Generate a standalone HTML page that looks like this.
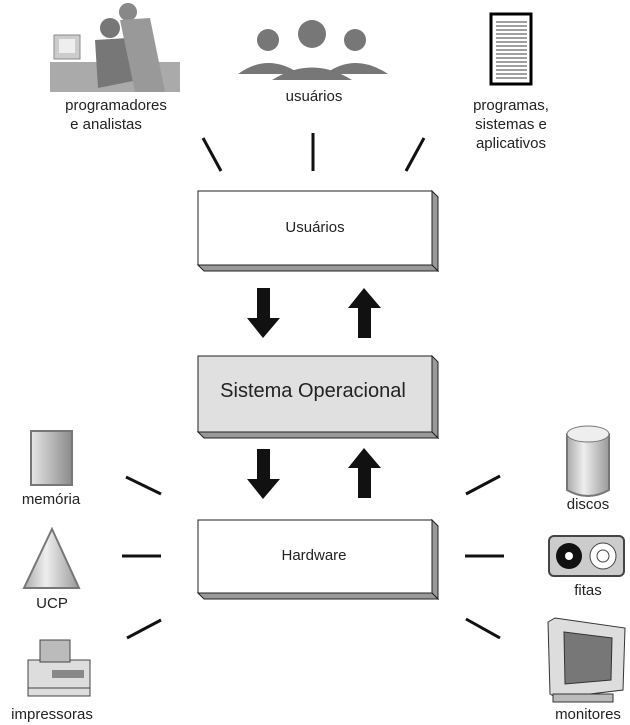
<!DOCTYPE html>
<html><head><meta charset="utf-8"><style>
html,body{margin:0;padding:0;background:#fff;}
svg{display:block;}
text{font-family:"Liberation Sans",sans-serif;fill:#222;}
</style></head><body>
<svg width="630" height="725" viewBox="0 0 630 725" xmlns="http://www.w3.org/2000/svg">
<defs>
<linearGradient id="gm" x1="0" x2="1"><stop offset="0" stop-color="#e6e6e6"/><stop offset="1" stop-color="#8a8a8a"/></linearGradient>
<linearGradient id="gc" x1="0" x2="1"><stop offset="0" stop-color="#aaa"/><stop offset="0.4" stop-color="#eee"/><stop offset="1" stop-color="#999"/></linearGradient>
</defs>
<!-- top icons -->
<g>
<rect x="50" y="62" width="130" height="30" fill="#aaa"/>
<rect x="54" y="35" width="26" height="24" fill="#ccc" stroke="#888"/>
<rect x="59" y="39" width="16" height="14" fill="#eee"/>
<ellipse cx="110" cy="28" rx="10" ry="10" fill="#777"/>
<path d="M95 40 L128 38 L138 80 L98 88 Z" fill="#777"/>
<ellipse cx="128" cy="12" rx="9" ry="9" fill="#888"/>
<path d="M120 20 L150 18 L165 92 L135 92 Z" fill="#999"/>
</g>
<g fill="#777">
<circle cx="268" cy="40" r="11"/><path d="M238 74 Q268 52 300 74 Z"/>
<circle cx="355" cy="40" r="11"/><path d="M325 74 Q355 52 388 74 Z"/>
<circle cx="312" cy="34" r="14"/><path d="M272 80 Q312 55 352 80 Z"/>
</g>
<rect x="491" y="14" width="40" height="70" fill="#fff" stroke="#000" stroke-width="3"/>
<g stroke="#000" stroke-width="0.8">
<line x1="496" y1="22" x2="527" y2="22"/><line x1="496" y1="26" x2="527" y2="26"/><line x1="496" y1="30" x2="527" y2="30"/><line x1="496" y1="34" x2="527" y2="34"/><line x1="496" y1="38" x2="527" y2="38"/><line x1="496" y1="42" x2="527" y2="42"/><line x1="496" y1="46" x2="527" y2="46"/><line x1="496" y1="50" x2="527" y2="50"/><line x1="496" y1="54" x2="527" y2="54"/><line x1="496" y1="58" x2="527" y2="58"/><line x1="496" y1="62" x2="527" y2="62"/><line x1="496" y1="66" x2="527" y2="66"/><line x1="496" y1="70" x2="527" y2="70"/><line x1="496" y1="74" x2="527" y2="74"/><line x1="496" y1="78" x2="527" y2="78"/>
</g>
<g font-size="15" text-anchor="middle">
<text x="116" y="110">programadores</text><text x="106" y="129">e analistas</text>
<text x="314" y="101">usuários</text>
<text x="511" y="110">programas,</text><text x="511" y="129">sistemas e</text><text x="511" y="148">aplicativos</text>
</g>
<!-- connector lines -->
<g stroke="#111" stroke-width="3">
<line x1="203" y1="138" x2="221" y2="171"/><line x1="313" y1="133" x2="313" y2="171"/><line x1="406" y1="171" x2="424" y2="138"/>
<line x1="126" y1="477" x2="161" y2="494"/><line x1="122" y1="556" x2="161" y2="556"/><line x1="127" y1="638" x2="161" y2="620"/>
<line x1="466" y1="494" x2="500" y2="476"/><line x1="465" y1="556" x2="504" y2="556"/><line x1="466" y1="619" x2="500" y2="638"/>
</g>
<!-- boxes -->
<g stroke="#222" stroke-width="1">
<polygon points="432,191 438,197 438,271 432,265" fill="#999"/><polygon points="198,265 432,265 438,271 204,271" fill="#999"/>
<rect x="198" y="191" width="234" height="74" fill="#fff"/>
<polygon points="432,356 438,362 438,438 432,432" fill="#999"/><polygon points="198,432 432,432 438,438 204,438" fill="#999"/>
<rect x="198" y="356" width="234" height="76" fill="#e0e0e0"/>
<polygon points="432,520 438,526 438,599 432,593" fill="#999"/><polygon points="198,593 432,593 438,599 204,599" fill="#999"/>
<rect x="198" y="520" width="234" height="73" fill="#fff"/>
</g>
<g text-anchor="middle">
<text x="315" y="232" font-size="15">Usuários</text>
<text x="313" y="397" font-size="20">Sistema Operacional</text>
<text x="314" y="560" font-size="15">Hardware</text>
</g>
<!-- arrows -->
<g fill="#111">
<polygon points="257,288 270,288 270,318 280,318 263,338 247,318 257,318"/>
<polygon points="358,338 371,338 371,308 381,308 364,288 348,308 358,308"/>
<polygon points="257,449 270,449 270,479 280,479 263,499 247,479 257,479"/>
<polygon points="358,498 371,498 371,468 381,468 364,448 348,468 358,468"/>
</g>
<!-- left icons -->
<rect x="31" y="431" width="41" height="54" fill="url(#gm)" stroke="#777" stroke-width="2"/>
<polygon points="52,529 79,588 24,588" fill="url(#gc)" stroke="#777" stroke-width="2"/>
<g>
<rect x="28" y="660" width="62" height="36" fill="#ddd" stroke="#444"/>
<rect x="40" y="640" width="30" height="22" fill="#bbb" stroke="#444"/>
<rect x="52" y="670" width="32" height="8" fill="#888"/>
<line x1="28" y1="688" x2="90" y2="688" stroke="#444"/>
</g>
<!-- right icons -->
<path d="M567 434 Q588 422 609 434 L609 490 Q588 502 567 490 Z" fill="url(#gc)" stroke="#777" stroke-width="2"/>
<ellipse cx="588" cy="434" rx="21" ry="8" fill="#eee" stroke="#777"/>
<rect x="549" y="536" width="75" height="40" rx="5" fill="#ccc" stroke="#444" stroke-width="2"/>
<circle cx="569" cy="556" r="13" fill="#111"/><circle cx="569" cy="556" r="4" fill="#fff"/>
<circle cx="603" cy="556" r="13" fill="#fff" stroke="#444"/><circle cx="603" cy="556" r="6" fill="#fff" stroke="#444"/>
<g>
<polygon points="548,622 555,618 625,628 623,690 557,698 550,694" fill="#ddd" stroke="#333"/>
<polygon points="564,632 612,638 611,680 565,684" fill="#777" stroke="#333"/>
<rect x="553" y="694" width="60" height="8" fill="#bbb" stroke="#333"/>
</g>
<g font-size="15" text-anchor="middle">
<text x="51" y="504">memória</text>
<text x="52" y="608">UCP</text>
<text x="52" y="719">impressoras</text>
<text x="588" y="509">discos</text>
<text x="588" y="595">fitas</text>
<text x="588" y="719">monitores</text>
</g>
</svg>
</body></html>
